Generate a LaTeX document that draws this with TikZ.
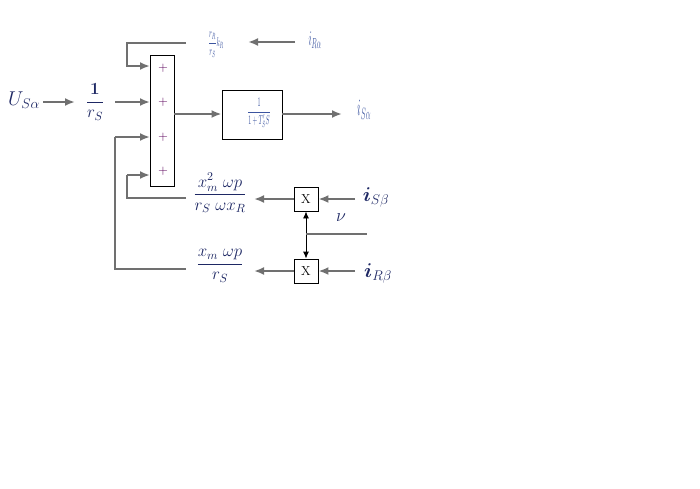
\documentclass[tikz,border=0pt]{standalone}
\usepackage{fix-cm}
\usepackage{amsmath}
\usepackage{amssymb}
\usepackage{tikz}
\usetikzlibrary{arrows.meta}

\definecolor{linha}{RGB}{112,112,112}
\definecolor{azul}{RGB}{30,40,100}
\definecolor{azulc}{RGB}{60,85,160}
\definecolor{roxo}{RGB}{90,0,90}

\begin{document}
\begin{tikzpicture}[x=1pt,y=-1pt,
		sinal/.style={draw=linha, line width=2pt, -{Latex[length=10pt,width=8pt]}},
		fio/.style={draw=linha, line width=2pt},
		caixa/.style={draw, line width=0.9pt, inner sep=0pt},
		mult/.style={draw, line width=0.9pt, minimum size=24pt, inner sep=0pt, font=\fontsize{13}{13}\selectfont},
		texto/.style={inner sep=1pt, text=azul},
		estreito/.style={inner sep=1pt, text=azulc, xscale=0.6, yscale=1.3, transform shape}]
	\useasboundingbox (0,0) rectangle (700,488);
	% Blocos
	\node[texto, font=\fontsize{20}{20}\selectfont] (usa) at (24,100) {$U_{S\alpha}$};
	\node[texto, font=\fontsize{17}{17}\selectfont] (frac1) at (95,102) {$\dfrac{\mathbf{1}}{r_{S}}$};
	\node[caixa, minimum width=24pt, minimum height=131pt] (soma) at (162,120.5) {};
	\foreach \y/\n in {68/1,102/2,137/3,171/4}
		\node[text=roxo, font=\fontsize{13}{13}\selectfont, inner sep=0pt] (mais\n) at (163,\y) {$+$};
	\foreach \y/\n in {66/1,102/2,137/3,175/4}
		\coordinate (in\n) at (150,\y);
	\node[estreito, font=\fontsize{10}{10}\selectfont] (fracR) at (216,45) {$\dfrac{r_R}{r_S}k_R$};
	\node[estreito, font=\fontsize{16}{16}\selectfont] (iRa) at (315,40) {$i_{R\alpha}$};
	\node[caixa, minimum width=60pt, minimum height=49pt] (bloco) at (252,114.5) {};
	\node[estreito, font=\fontsize{10}{10}\selectfont] at (259,113) {$\dfrac{1}{1+T'_{S}S}$};
	\node[estreito, font=\fontsize{18}{18}\selectfont] (iSa) at (364,110) {$i_{S\alpha}$};
	\node[texto, font=\fontsize{17}{17}\selectfont] (fracA) at (220,193) {$\dfrac{x_m^2\;\omega p}{r_S\;\omega x_R}$};
	\node[texto, font=\fontsize{17}{17}\selectfont] (fracB) at (220,266) {$\dfrac{x_m\;\omega p}{r_S}$};
	\node[mult] (xa) at (306,199) {X};
	\node[mult] (xb) at (306,271) {X};
	\node[texto, font=\fontsize{20}{20}\selectfont] (iSb) at (376,197) {$\boldsymbol{i}_{S\beta}$};
	\node[texto, font=\fontsize{20}{20}\selectfont] (iRb) at (378,273) {$\boldsymbol{i}_{R\beta}$};
	\node[texto, font=\fontsize{18}{18}\selectfont] (nu) at (341,218) {$\nu$};
	\coordinate (nuj) at (306,234);
	\coordinate (nufim) at (367,234);
	% Ligacoes
	\draw[sinal] (43,102) -- (75,102);
	\draw[sinal] (115,102) -- (in2);
	\draw[sinal] (186,43) -| (127,66) -- (in1);
	\draw[sinal] (295,42) -- (248,42);
	\draw[sinal] (soma.east |- 0,114) -- (bloco.west |- 0,114);
	\draw[sinal] (bloco.east |- 0,114) -- (342,114);
	\draw[fio] (186,198) -| (127,175);
	\draw[sinal] (127,175) -- (in4);
	\draw[fio] (186,269) -| (115,137);
	\draw[sinal] (115,137) -- (in3);
	\draw[sinal] (xa.west) -- (254,199);
	\draw[sinal] (xb.west) -- (254,271);
	\draw[sinal] (355,199) -- (xa.east);
	\draw[sinal] (355,271) -- (xb.east);
	\draw[line width=0.9pt, {Latex[length=7pt,width=6pt]}-{Latex[length=7pt,width=6pt]}] (xa.south) -- (xb.north);
	\draw[fio] (nuj) -- (nufim);
\end{tikzpicture}
\end{document}
